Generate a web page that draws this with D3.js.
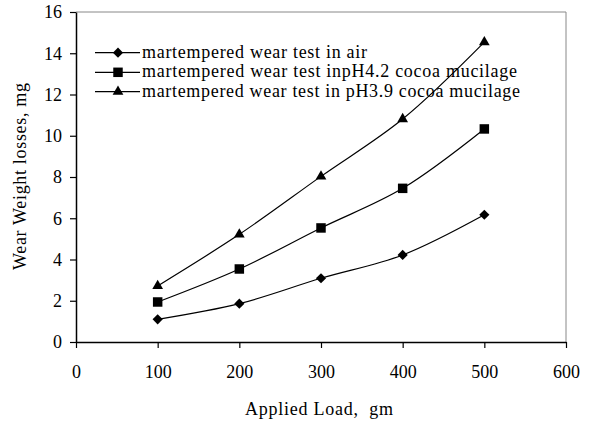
<!DOCTYPE html>
<html>
<head>
<meta charset="utf-8">
<script src="https://cdn.jsdelivr.net/npm/d3@7"></script>
<style>
  body { margin: 0; background: #fff; }
  text { font-family: "Liberation Serif", "Times New Roman", serif; fill: #000; white-space: pre; }
</style>
</head>
<body>
<svg id="chart" width="589" height="421"></svg>
<script>
// data
var loads = [100, 200, 300, 400, 500];
var airLoss = [1.1, 1.86, 3.09, 4.22, 6.17];
var ph42Loss = [1.94, 3.54, 5.53, 7.45, 10.33];
var ph39Loss = [2.72, 5.22, 8.03, 10.81, 14.54];
var seriesNames = [
  "martempered wear test in air",
  "martempered wear test inpH4.2 cocoa mucilage",
  "martempered wear test in pH3.9 cocoa mucilage"
];
var xTicks = [0, 100, 200, 300, 400, 500, 600];
var yTicks = [0, 2, 4, 6, 8, 10, 12, 14, 16];

var svg = d3.select("#chart");
var plotL = 76, plotR = 566, plotT = 12, plotB = 342;

var x = d3.scaleLinear().domain([0, 600]).range([plotL, plotR]);
var y = d3.scaleLinear().domain([0, 16]).range([plotB, plotT]);

// frame: grey top/right, black axes
svg.append("path")
    .attr("d", "M" + plotL + "," + plotT + "H" + plotR + "V" + plotB)
    .attr("fill", "none")
    .attr("stroke", "#888")
    .attr("stroke-width", 1);

var xAxis = svg.append("g")
    .attr("transform", "translate(0," + plotB + ")")
    .call(d3.axisBottom(x).tickValues(xTicks).tickSize(6).tickSizeOuter(0).tickPadding(17));
var yAxis = svg.append("g")
    .attr("transform", "translate(" + plotL + ",0)")
    .call(d3.axisLeft(y).tickValues(yTicks).tickSize(6).tickSizeOuter(0).tickPadding(8));

[xAxis, yAxis].forEach(function(a) {
    a.attr("font-family", null);
    a.select(".domain").attr("stroke", "#000").attr("stroke-width", 1.5);
    a.selectAll(".tick line").attr("stroke", "#000").attr("stroke-width", 1.2);
    a.selectAll(".tick text")
        .style("font-family", "'Liberation Serif', serif")
        .style("font-size", "18px")
        .attr("fill", "#000");
});

// axis titles
svg.append("text")
    .attr("x", 245).attr("y", 415)
    .attr("textLength", 148)
    .attr("lengthAdjust", "spacing")
    .style("font-size", "18px")
    .text("Applied Load,  gm");

svg.append("text")
    .attr("transform", "translate(26,270) rotate(-90)")
    .attr("textLength", 187)
    .attr("lengthAdjust", "spacing")
    .style("font-size", "18px")
    .text("Wear Weight losses, mg");

var allSeries = [airLoss, ph42Loss, ph39Loss];
var shapes = [d3.symbolSquare, d3.symbolSquare, d3.symbolTriangle];
var sizes = [52, 90, 50];
var turns = [45, 0, 0];

var line = d3.line()
    .x(function(d, i) { return x(loads[i]); })
    .y(function(d) { return y(d); })
    .curve(d3.curveCatmullRom.alpha(0.5));

allSeries.forEach(function(vals, s) {
    svg.append("path")
        .datum(vals)
        .attr("d", line)
        .attr("fill", "none")
        .attr("stroke", "#000")
        .attr("stroke-width", 1.2);

    svg.selectAll(".m" + s)
        .data(vals)
        .enter().append("path")
        .attr("class", "m" + s)
        .attr("transform", function(d, i) {
            return "translate(" + x(loads[i]) + "," + y(d) + ") rotate(" + turns[s] + ")";
        })
        .attr("d", d3.symbol().type(shapes[s]).size(sizes[s]))
        .attr("fill", "#000");
});

// legend
var legendRows = [52.7, 72.3, 91.7];
var legendEnds = [367, 517, 520];
var legend = svg.append("g");
seriesNames.forEach(function(name, s) {
    var ly = legendRows[s];
    legend.append("line")
        .attr("x1", 95).attr("x2", 140)
        .attr("y1", ly).attr("y2", ly)
        .attr("stroke", "#000").attr("stroke-width", 1.2);
    legend.append("path")
        .attr("transform", "translate(118," + ly + ") rotate(" + turns[s] + ")")
        .attr("d", d3.symbol().type(shapes[s]).size(sizes[s]))
        .attr("fill", "#000");
    legend.append("text")
        .attr("x", 142).attr("y", ly + 5)
        .attr("textLength", legendEnds[s] - 142)
        .attr("lengthAdjust", "spacing")
        .style("font-size", "18px")
        .text(name);
});
</script>
</body>
</html>
